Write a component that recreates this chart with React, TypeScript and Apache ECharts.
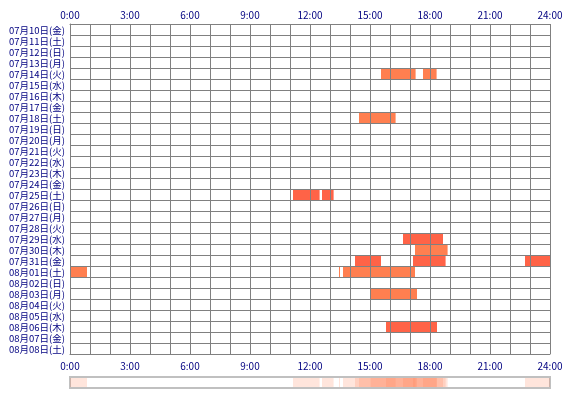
import React, { useEffect, useRef } from "react";
import * as echarts from "echarts";

const days = [
  "07月10日(金)", "07月11日(土)", "07月12日(日)", "07月13日(月)", "07月14日(火)",
  "07月15日(水)", "07月16日(木)", "07月17日(金)", "07月18日(土)", "07月19日(日)",
  "07月20日(月)", "07月21日(火)", "07月22日(水)", "07月23日(木)", "07月24日(金)",
  "07月25日(土)", "07月26日(日)", "07月27日(月)", "07月28日(火)", "07月29日(水)",
  "07月30日(木)", "07月31日(金)", "08月01日(土)", "08月02日(日)", "08月03日(月)",
  "08月04日(火)", "08月05日(水)", "08月06日(木)", "08月07日(金)", "08月08日(土)",
];

const hourTicks = ["0:00", "3:00", "6:00", "9:00", "12:00", "15:00", "18:00", "21:00", "24:00"];

// [day index, start hour, end hour]
const sessionDay = [4, 4, 8, 15, 15, 19, 20, 21, 21, 21, 22, 22, 22, 24, 27];
const sessionStart = [15.55, 17.65, 14.45, 11.15, 12.6, 16.65, 17.25, 14.25, 17.15, 22.75, 0, 13.45, 13.65, 15.03, 15.8];
const sessionEnd = [17.28, 18.33, 16.28, 12.48, 13.18, 18.65, 18.88, 15.55, 18.78, 24, 0.85, 13.5, 17.25, 17.35, 18.35];
// colour per session: 0 = coral, 1 = tomato
const sessionTone = [0, 0, 0, 1, 1, 1, 0, 1, 1, 1, 0, 0, 0, 0, 1];

const tones = ["#FF7F50", "#FF6347"];

export default function App() {
  const ref = useRef<HTMLDivElement>(null);
  useEffect(() => {
    if (!ref.current) return;
    const chart = echarts.init(ref.current, null, { renderer: "svg" });
    const data = sessionDay.map((d, i) => [sessionStart[i], sessionEnd[i], d, sessionTone[i]]);
    const stripData = sessionDay.map((d, i) => [sessionStart[i], sessionEnd[i], 0, sessionTone[i]]);
    const labelStyle = {
      color: "#000080",
      fontSize: 10,
      lineHeight: 11,
      fontFamily: "'Noto Sans CJK JP', sans-serif",
    };
    const fmt = (v: number) => (v % 3 === 0 ? hourTicks[v / 3] : "");
    const gray = "#808080";
    chart.setOption({
      animation: false,
      grid: [
        { left: 70, top: 24, width: 480, height: 330 },
        { left: 70, top: 377, width: 480, height: 11, show: true, borderColor: "#C0C0C0", borderWidth: 2, backgroundColor: "#fff" },
      ],
      xAxis: [
        {
          type: "value", gridIndex: 0, min: 0, max: 24, interval: 1, position: "bottom", z: 10,
          axisLine: { show: true, lineStyle: { color: gray, width: 1 } },
          axisTick: { show: false },
          splitLine: { show: true, lineStyle: { color: gray, width: 1 } },
          axisLabel: { ...labelStyle, margin: 6, formatter: fmt },
        },
        {
          type: "value", gridIndex: 0, min: 0, max: 24, interval: 1, position: "top", z: 10,
          axisLine: { show: true, lineStyle: { color: gray, width: 1 } },
          axisTick: { show: false },
          splitLine: { show: false },
          axisLabel: { ...labelStyle, margin: 4, formatter: fmt },
        },
        {
          type: "value", gridIndex: 1, min: 0, max: 24, show: false,
        },
      ],
      yAxis: [
        {
          type: "category", gridIndex: 0, data: days, inverse: true, z: 10,
          axisLine: { show: true, lineStyle: { color: gray, width: 1 } },
          axisTick: { show: false },
          splitLine: { show: true, lineStyle: { color: gray, width: 1 } },
          axisLabel: { ...labelStyle, fontSize: 9.5, margin: 5, interval: 0 },
        },
        {
          type: "category", gridIndex: 1, data: [""], show: false,
        },
      ],
      series: [
        {
          type: "custom",
          xAxisIndex: 0,
          yAxisIndex: 0,
          data,
          renderItem: (params: any, api: any) => {
            const s = api.coord([api.value(0), api.value(2)]);
            const e = api.coord([api.value(1), api.value(2)]);
            const h = api.size([0, 1])[1];
            return {
              type: "rect",
              shape: { x: s[0], y: s[1] - h / 2, width: e[0] - s[0], height: h },
              style: { fill: tones[api.value(3)] },
            };
          },
        },
        {
          type: "custom",
          xAxisIndex: 2,
          yAxisIndex: 1,
          data: stripData,
          renderItem: (params: any, api: any) => {
            const s = api.coord([api.value(0), 0]);
            const e = api.coord([api.value(1), 0]);
            const h = api.size([0, 1])[1];
            return {
              type: "rect",
              shape: { x: s[0], y: s[1] - h / 2 + 1, width: e[0] - s[0], height: h - 2 },
              style: { fill: "#FF7F50", opacity: 0.2 },
            };
          },
        },
      ],
    });
    return () => chart.dispose();
  }, []);
  return <div ref={ref} style={{ position: "fixed", left: 0, top: 0, width: 570, height: 400 }} />;
}
